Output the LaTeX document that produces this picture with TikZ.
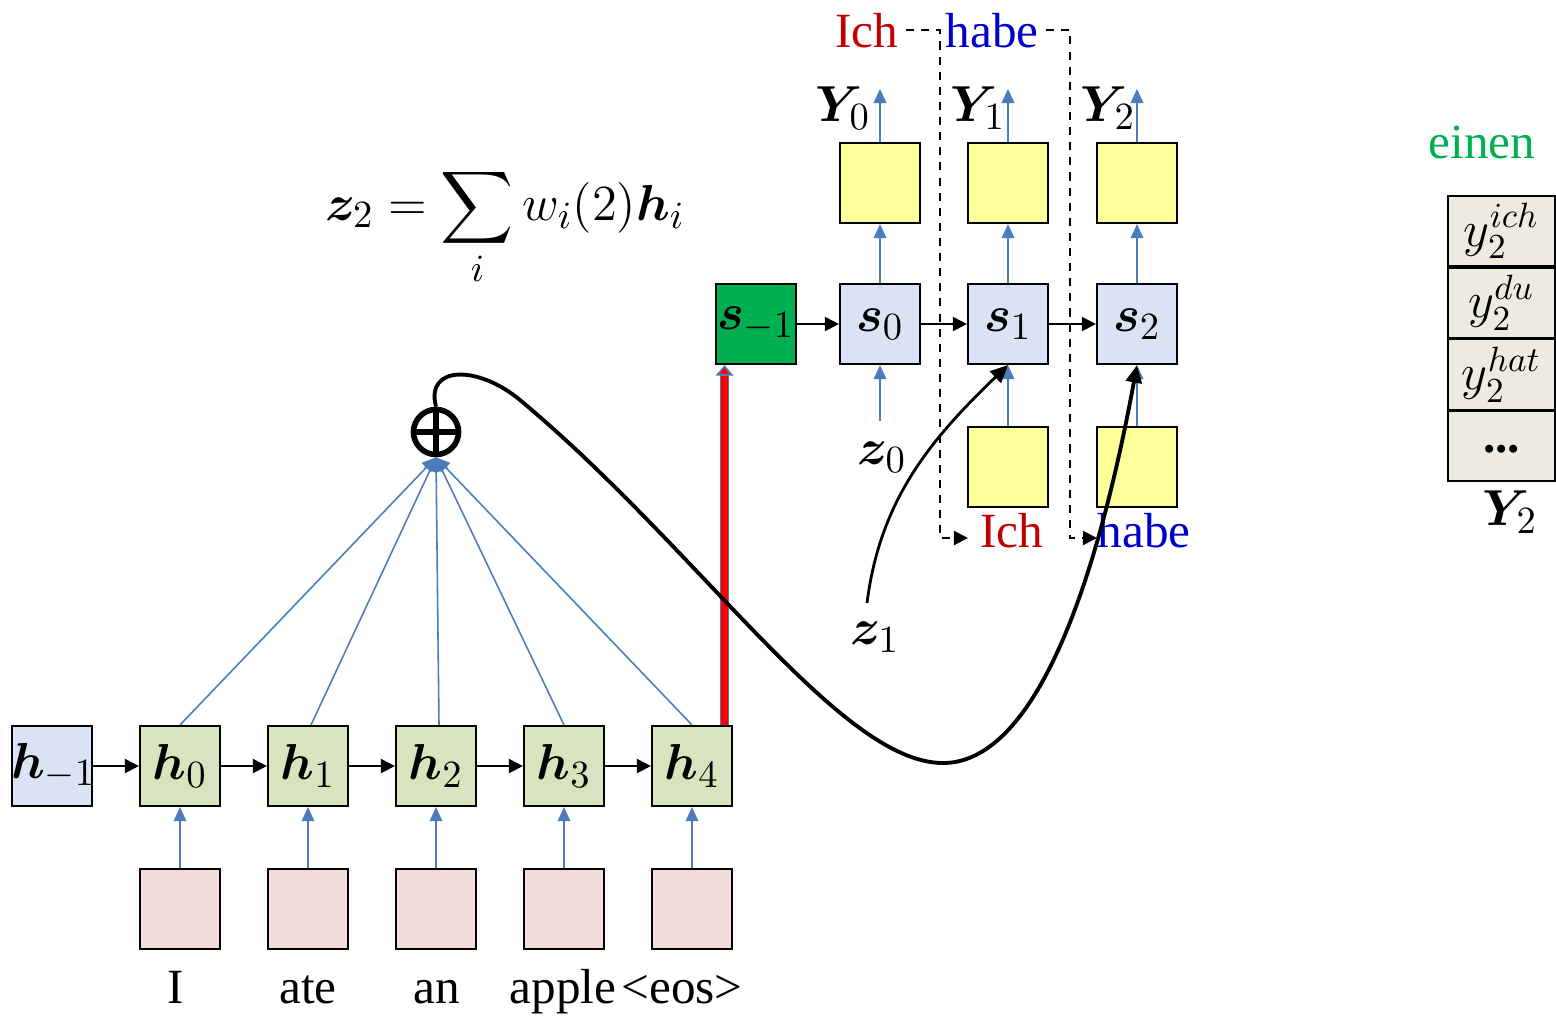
\documentclass[tikz,border=0pt]{standalone}
\usepackage{amsmath,bm}
\usepackage{fontspec}
\setmainfont{Liberation Serif}
\usepackage{tikz}
\usetikzlibrary{arrows.meta, positioning, calc}

\definecolor{encblue}{HTML}{DAE3F3}
\definecolor{encgreen}{HTML}{D7E4BD}
\definecolor{inpink}{HTML}{F2DCDB}
\definecolor{outyellow}{HTML}{FFFF99}
\definecolor{startgreen}{HTML}{00B050}
\definecolor{feedblue}{HTML}{4A7EBB}
\definecolor{wordred}{HTML}{C00000}
\definecolor{wordblue}{HTML}{0000CC}
\definecolor{cellgray}{HTML}{EDEBE0}

\begin{document}
\begin{tikzpicture}[
  box/.style={draw, line width=0.6pt, minimum width=8mm, minimum height=8mm, inner sep=0pt, font=\fontsize{15}{17}\selectfont},
  cell/.style={draw, line width=0.5pt, fill=cellgray, minimum width=10.7mm, minimum height=7mm, inner sep=0pt, font=\fontsize{14}{16}\selectfont},
  word/.style={font=\fontsize{14}{16}\selectfont, inner sep=2pt},
  lbl/.style={font=\fontsize{15}{17}\selectfont, inner sep=1pt},
  arrow/.style={-{Triangle[length=4pt, width=4pt]}, line width=0.55pt},
  feed/.style={-{Triangle[length=4pt, width=3.6pt]}, line width=0.45pt, draw=feedblue},
  curve/.style={-{Triangle[length=5pt, width=4.5pt]}, line width=1.1pt},
  copyline/.style={dash pattern=on 2.3pt off 2pt, line width=0.55pt}
]
\useasboundingbox (0,0) rectangle (15.56,-10.21);
% encoder
\node[box, fill=encblue] at (0.52,-7.66) (hm1) {\makebox[0pt]{\hspace{0.03cm}$\bm{h}_{-1}$}};
\node[box, fill=encgreen] at (1.80,-7.66) (h0) {$\bm{h}_0$};
\node[box, fill=encgreen] at (3.08,-7.66) (h1) {$\bm{h}_1$};
\node[box, fill=encgreen] at (4.36,-7.66) (h2) {$\bm{h}_2$};
\node[box, fill=encgreen] at (5.64,-7.66) (h3) {$\bm{h}_3$};
\node[box, fill=encgreen] at (6.92,-7.66) (h4) {$\bm{h}_4$};
\node[box, fill=inpink] at (1.80,-9.09) (x0) {};
\node[box, fill=inpink] at (3.08,-9.09) (x1) {};
\node[box, fill=inpink] at (4.36,-9.09) (x2) {};
\node[box, fill=inpink] at (5.64,-9.09) (x3) {};
\node[box, fill=inpink] at (6.92,-9.09) (x4) {};
\node[word, anchor=base] at (1.76,-10.03) (w0) {I};
\node[word, anchor=base] at (3.08,-10.03) (w1) {ate};
\node[word, anchor=base] at (4.37,-10.03) (w2) {an};
\node[word, anchor=base] at (5.63,-10.03) (w3) {apple};
\node[word, anchor=base] at (6.82,-10.03) (w4) {\textless eos\textgreater};
% attention sum
\node[draw, circle, line width=1.6pt, minimum size=4.5mm, inner sep=0pt] at (4.36,-4.32) (sum) {};
\node[lbl] at (5.05,-2.27) (eq) {$\bm{z}_2 = \displaystyle\sum_i w_i(2)\bm{h}_i$};
% decoder
\node[box, fill=startgreen] at (7.56,-3.24) (sm1) {$\bm{s}_{-1}$};
\node[box, fill=encblue] at (8.80,-3.24) (s0) {$\bm{s}_0$};
\node[box, fill=encblue] at (10.08,-3.24) (s1) {$\bm{s}_1$};
\node[box, fill=encblue] at (11.37,-3.24) (s2) {$\bm{s}_2$};
\node[box, fill=outyellow] at (8.80,-1.83) (yo0) {};
\node[box, fill=outyellow] at (10.08,-1.83) (yo1) {};
\node[box, fill=outyellow] at (11.37,-1.83) (yo2) {};
\node[box, fill=outyellow] at (10.08,-4.67) (yi1) {};
\node[box, fill=outyellow] at (11.37,-4.67) (yi2) {};
\node[lbl] at (8.43,-1.08) (Y0) {$\bm{Y}_0$};
\node[lbl] at (9.78,-1.08) (Y1) {$\bm{Y}_1$};
\node[lbl] at (11.08,-1.08) (Y2) {$\bm{Y}_2$};
\node[lbl] at (8.82,-4.57) (z0) {$\bm{z}_0$};
\node[lbl] at (8.75,-6.37) (z1) {$\bm{z}_1$};
\node[word, text=wordred, anchor=base] at (8.67,-0.47) (ichtop) {Ich};
\node[word, text=wordblue, anchor=base] at (9.92,-0.47) (habetop) {habe};
\node[word, text=wordred, anchor=base] at (10.12,-5.47) (ichbot) {Ich};
\node[word, text=wordblue, anchor=base] at (11.44,-5.47) (habebot) {habe};
% output distribution
\node[word, text=startgreen] at (14.82,-1.42) (einen) {einen};
\node[cell] at (15.015,-2.31) (c1) {$y_2^{ich}$};
\node[cell, below=0pt of c1] (c2) {$y_2^{du}$};
\node[cell, below=0pt of c2] (c3) {$y_2^{hat}$};
\node[cell, below=0pt of c3] (c4) {\raisebox{-0.6ex}{\textbf{...}}};
\node[lbl] at (15.10,-5.12) (Y2tab) {$\bm{Y}_2$};
\coordinate (o0) at ($(yo0.north)+(0,0.53)$);
\coordinate (o1) at ($(yo1.north)+(0,0.53)$);
\coordinate (o2) at ($(yo2.north)+(0,0.53)$);
\coordinate (z0top) at ($(s0.south)+(0,-0.56)$);
\coordinate (z1start) at (8.67,-6.03);
\coordinate (pipe) at ($(h4.north east)+(-0.085,0)$);
\coordinate (d1top) at (9.40,-0.30);
\coordinate (d1bot) at (9.40,-5.38);
\coordinate (d1end) at (9.68,-5.38);
\coordinate (d2top) at (10.70,-0.30);
\coordinate (d2bot) at (10.70,-5.38);
\coordinate (d2end) at (10.97,-5.38);
\draw[arrow] (hm1.east) -- (h0.west);
\draw[arrow] (h0.east) -- (h1.west);
\draw[arrow] (h1.east) -- (h2.west);
\draw[arrow] (h2.east) -- (h3.west);
\draw[arrow] (h3.east) -- (h4.west);
\draw[feed] (x0.north) -- (h0.south);
\draw[feed] (x1.north) -- (h1.south);
\draw[feed] (x2.north) -- (h2.south);
\draw[feed] (x3.north) -- (h3.south);
\draw[feed] (x4.north) -- (h4.south);
\draw[feed] (h0.north) -- (sum.south);
\draw[feed] ($(h1.north)+(0.03,0)$) -- (sum.south);
\draw[feed] ($(h2.north)+(0.03,0)$) -- (sum.south);
\draw[feed] (h3.north) -- (sum.south);
\draw[feed] (h4.north) -- (sum.south);
\draw[line width=1.6pt] (sum.north) -- (sum.south) (sum.west) -- (sum.east);
\draw[arrow] (sm1.east) -- (s0.west);
\draw[arrow] (s0.east) -- (s1.west);
\draw[arrow] (s1.east) -- (s2.west);
\draw[feed] (s0.north) -- (yo0.south);
\draw[feed] (s1.north) -- (yo1.south);
\draw[feed] (s2.north) -- (yo2.south);
\draw[feed] (yo0.north) -- (o0);
\draw[feed] (yo1.north) -- (o1);
\draw[feed] (yo2.north) -- (o2);
\draw[feed] (z0top) -- (s0.south);
\draw[feed] (yi1.north) -- (s1.south);
\draw[feed] (yi2.north) -- (s2.south);
\draw[copyline, -{Triangle[length=4pt, width=4pt]}] (ichtop.east |- d1top) -- (d1top) -- (d1bot) -- (d1end);
\draw[copyline, -{Triangle[length=4pt, width=4pt]}] (habetop.east |- d2top) -- (d2top) -- (d2bot) -- (d2end);
\draw[draw=feedblue, line width=2.8pt, -{Triangle[length=3pt, width=5pt, fill=red, line width=0.5pt]}] (pipe) -- (pipe |- sm1.south);
\draw[red, line width=1.9pt] (pipe) -- ($(pipe |- sm1.south)+(0,-0.11)$);
\draw[curve] (sum.north) .. controls (4.25,-3.65) and (4.78,-3.65) .. (5.20,-4.00) .. controls (7.00,-5.50) and (8.40,-7.63) .. (9.43,-7.63) .. controls (10.25,-7.63) and (10.90,-6.20) .. (s2.south);
\draw[curve, line width=0.8pt] (z1start) .. controls (8.80,-5.00) and (9.30,-4.40) .. (s1.south);
\end{tikzpicture}
\end{document}
